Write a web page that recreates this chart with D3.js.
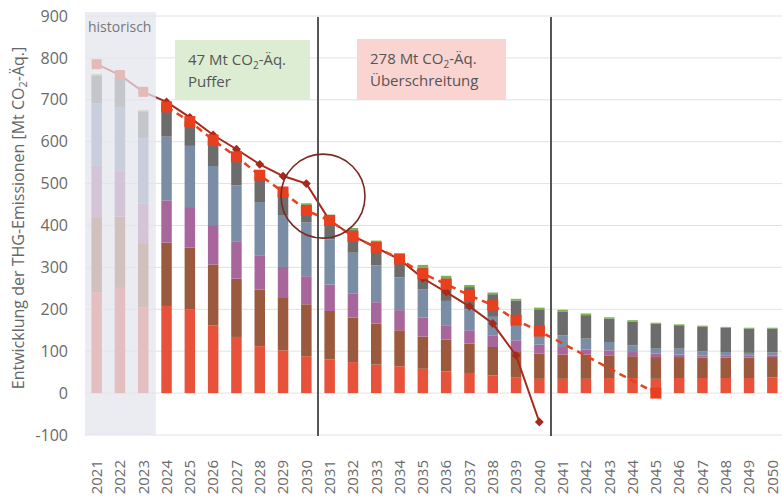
<!DOCTYPE html>
<html><head><meta charset="utf-8">
<script src="https://cdn.jsdelivr.net/npm/d3@7"></script>
<style>body{margin:0;background:#fff} svg{display:block;font-family:"Open Sans",sans-serif}</style>
</head><body><svg id="c" width="782" height="500"></svg>
<script>
const years = [2021,2022,2023,2024,2025,2026,2027,2028,2029,2030,2031,2032,2033,2034,2035,2036,2037,2038,2039,2040,2041,2042,2043,2044,2045,2046,2047,2048,2049,2050];
const energy      = [241,251,205,208,199,162,134,112,102,88,80,74,68,64,58,52,48,42,38,34,34,34,36,36,34,36,36,36,36,37];
const industry    = [179,170,153,151,148,145,139,135,127,124,116,106,98,86,77,76,70,68,60,60,58,58,54,52,52,50,49,49,49,49];
const buildings   = [124,111,94,101,97,94,88,82,72,67,63,57,51,48,45,34,32,28,28,22,18,12,12,10,8,6,5,4,4,4];
const transport   = [147,151,156,152,146,141,135,127,124,128,108,98,88,78,67,58,50,44,36,28,28,26,20,16,12,14,10,9,7,7];
const agriculture = [66,72,63,60,55,53,56,54,50,42,54,54,53,51,53,54,53,54,59,56,57,56,56,56,60,56,59,58,58,57];
const waste       = [4,4,4,5,5,5,5,5,5,4,5,5,6,6,6,6,5,4,4,4,4,4,3,4,2,2,2,2,2,2];

const histYears = [2021,2022,2023];
const historic = [785,759,719];
const projYears = [2024,2025,2026,2027,2028,2029,2030,2031,2032,2033,2034,2035,2036,2037,2038,2039,2040];
const projection = [695,658,616,582,546,518,500,412,375,347,319,274,241,207,166,90,-69];
const targetYears = [2024,2025,2026,2027,2028,2029,2030,2031,2032,2033,2034,2035,2036,2037,2038,2039,2040,2045];
const target = [683,648,604,564,520,480,436,412,374,348,320,285,260,233,210,174,148,0];
const yTicks = [-100,0,100,200,300,400,500,600,700,800,900];

const keys = ["energy","industry","buildings","transport","agriculture","waste"];
const colors = {energy:"#e8523a",industry:"#9b5a3d",buildings:"#a8679c",transport:"#7b8da5",agriculture:"#6c6c6c",waste:"#7bb24c"};
const series = {energy,industry,buildings,transport,agriculture,waste};
const table = years.map((yr,i)=>{const o={year:yr}; keys.forEach(k=>o[k]=series[k][i]); return o;});

const svg = d3.select("#c");
const x = d3.scaleBand().domain(years).range([85,784]).paddingInner(0.55).paddingOuter(0.275);
const y = d3.scaleLinear().domain([-100,900]).range([435,16]);
const xc = d => x(d) + x.bandwidth()/2;
const L = 85, R = 782;

// gridlines
svg.append("g").selectAll("line").data(yTicks).join("line")
  .attr("x1",L).attr("x2",R).attr("y1",d=>y(d)).attr("y2",d=>y(d))
  .attr("stroke","#e2e2e2").attr("stroke-width",1);

// y tick labels
svg.append("g").selectAll("text").data(yTicks).join("text")
  .attr("x",68).attr("y",d=>y(d)).attr("dy","0.35em").attr("text-anchor","end")
  .attr("font-size",16).attr("fill","#6a6a6a").text(d=>d);

// bars
const stacked = d3.stack().keys(keys)(table);
svg.append("g").selectAll("g").data(stacked).join("g").attr("fill",d=>colors[d.key])
  .selectAll("rect").data(d=>d).join("rect")
  .attr("x",d=>x(d.data.year)).attr("width",x.bandwidth())
  .attr("y",d=>y(d[1])).attr("height",d=>y(d[0])-y(d[1]));

// solid line (historic + projection)
const solidPts = histYears.map((yr,i)=>[yr,historic[i]]).concat(projYears.map((yr,i)=>[yr,projection[i]]));
const line = d3.line().x(d=>xc(d[0])).y(d=>y(d[1]));
svg.append("path").datum(solidPts).attr("d",line).attr("fill","none")
  .attr("stroke","#a8281a").attr("stroke-width",2);
// dashed target
const tgtPts = targetYears.map((yr,i)=>[yr,target[i]]);
svg.append("path").datum(tgtPts).attr("d",line).attr("fill","none")
  .attr("stroke","#e8401e").attr("stroke-width",2.5).attr("stroke-dasharray","7,5");
// historic squares
svg.append("g").selectAll("rect").data(histYears.map((yr,i)=>[yr,historic[i]])).join("rect")
  .attr("x",d=>xc(d[0])-5).attr("y",d=>y(d[1])-5).attr("width",10).attr("height",10).attr("fill","#e8401e");
// diamonds
svg.append("g").selectAll("path").data(projYears.map((yr,i)=>[yr,projection[i]])).join("path")
  .attr("d",d3.symbol(d3.symbolDiamond2,50)).attr("transform",d=>`translate(${xc(d[0])},${y(d[1])})`)
  .attr("fill","#a8281a");
// target squares
svg.append("g").selectAll("rect").data(tgtPts).join("rect")
  .attr("x",d=>xc(d[0])-5.5).attr("y",d=>y(d[1])-5.5).attr("width",11).attr("height",11).attr("fill","#e8401e");

// historic overlay
svg.append("rect").attr("x",L).attr("y",12).attr("width",x(2024)-x.step()*x.paddingInner()/2-L+1).attr("height",435-12)
  .attr("fill","#e3e6ed").attr("opacity",0.74);
svg.append("text").attr("x",88).attr("y",32).attr("font-size",14).attr("fill","#777").text("historisch");

// dividers
[2031,2041].forEach(yr=>{
  const bx = x(yr) - x.step()*x.paddingInner()/2;
  svg.append("line").attr("x1",bx).attr("x2",bx).attr("y1",17).attr("y2",436)
    .attr("stroke","#555").attr("stroke-width",2);
});

// circle annotation
const cx = (xc(2030)+xc(2031))/2 + 5;
svg.append("circle").attr("cx",cx).attr("cy",y(470)).attr("r",42)
  .attr("fill","none").attr("stroke","#7a2a22").attr("stroke-width",1.6);

// boxes
function box(x0,y0,w,h,fill,l1,l2){
  svg.append("rect").attr("x",x0).attr("y",y0).attr("width",w).attr("height",h).attr("fill",fill);
  const t = svg.append("text").attr("x",x0+13).attr("y",y0+25).attr("font-size",15).attr("fill","#555");
  t.append("tspan").text(l1[0]);
  t.append("tspan").attr("font-size",10).attr("dy",4).text("2");
  t.append("tspan").attr("dy",-4).text("-Äq.");
  svg.append("text").attr("x",x0+13).attr("y",y0+47).attr("font-size",15).attr("fill","#555").text(l2);
}
box(175,40,135,60,"#dcedd3",["47 Mt CO"],"Puffer");
box(357,39,149,61,"#f9d4d0",["278 Mt CO"],"Überschreitung");

// x labels
svg.append("g").selectAll("text").data(years).join("text")
  .attr("transform",d=>`translate(${xc(d)},460) rotate(-90)`).attr("dy","0.35em")
  .attr("text-anchor","end").attr("font-size",15).attr("fill","#6a6a6a").text(d=>d);

// y label
const yl = svg.append("text").attr("transform","translate(18,218) rotate(-90)").attr("dy","0.35em")
  .attr("text-anchor","middle").attr("font-size",16).attr("fill","#666");
yl.append("tspan").text("Entwicklung der THG-Emissionen [Mt CO");
yl.append("tspan").attr("font-size",11).attr("dy",3).text("2");
yl.append("tspan").attr("dy",-3).text("-Äq.]");
</script></body></html>
